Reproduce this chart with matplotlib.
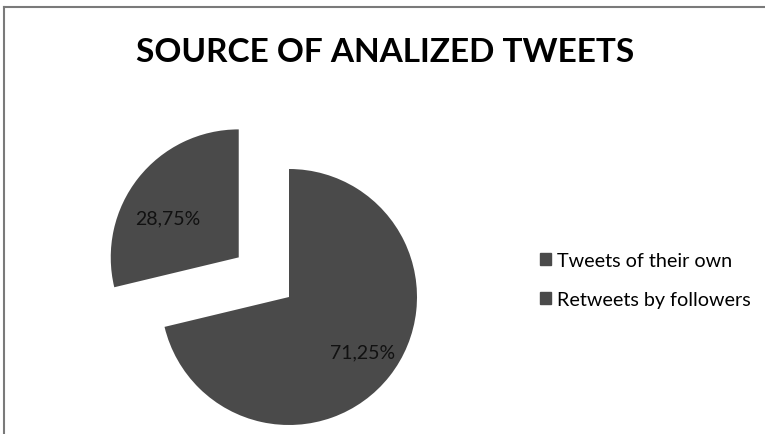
import matplotlib
matplotlib.use("Agg")
import matplotlib.pyplot as plt
from matplotlib.lines import Line2D
from matplotlib.patches import Patch

title = "SOURCE OF ANALIZED TWEETS"
categories = ["Tweets of their own", "Retweets by followers"]
values = [71.25, 28.75]
pct_labels = ["71,25%", "28,75%"]

W, H = 765, 435
fig = plt.figure(figsize=(W / 100, H / 100), dpi=100)
fig.patch.set_facecolor("white")
ax = fig.add_axes([0, 0, 1, 1])

color = "#4a4a4a"
R = 128
wedges, texts = ax.pie(
    values,
    colors=[color, color],
    startangle=90,
    counterclock=False,
    explode=[0, 0.5 * R],
    center=(289, H - 298),
    radius=R,
    labels=pct_labels,
    labeldistance=0.66,
    wedgeprops=dict(linewidth=0),
    textprops=dict(fontsize=14, color="#111111", family="Lato", ha="center", va="center"),
    frame=True,
)
# small nudges of label placement (Excel-like positions)
nudges = [(7, -3), (-5, -13)]
for t, (dx, dy) in zip(texts, nudges):
    x, y = t.get_position()
    t.set_position((x + dx, y + dy))

ax.set_xlim(0, W)
ax.set_ylim(0, H)
ax.set_aspect("equal")
ax.axis("off")

fig.text(385 / W, 1 - 53 / H, title, ha="center", va="center",
         fontsize=24, fontweight="bold", family="Lato", color="black")

handles = [Patch(facecolor=color, edgecolor=color) for _ in categories]
leg = fig.legend(handles, categories, loc="center left",
                 bbox_to_anchor=(522 / W, 1 - 281 / H), frameon=False,
                 handlelength=0.55, handleheight=0.55, handletextpad=0.3,
                 labelspacing=1.1, prop=dict(family="Lato", size=14.2))

# border lines
fig.add_artist(Line2D([4 / W, 4 / W], [0, 1 - 8 / H], transform=fig.transFigure,
                      color="#7a7a7a", lw=1.5))
fig.add_artist(Line2D([4 / W, 1], [1 - 8 / H, 1 - 8 / H], transform=fig.transFigure,
                      color="#7a7a7a", lw=1.5))

fig.savefig("out.png", dpi=100, facecolor="white")
